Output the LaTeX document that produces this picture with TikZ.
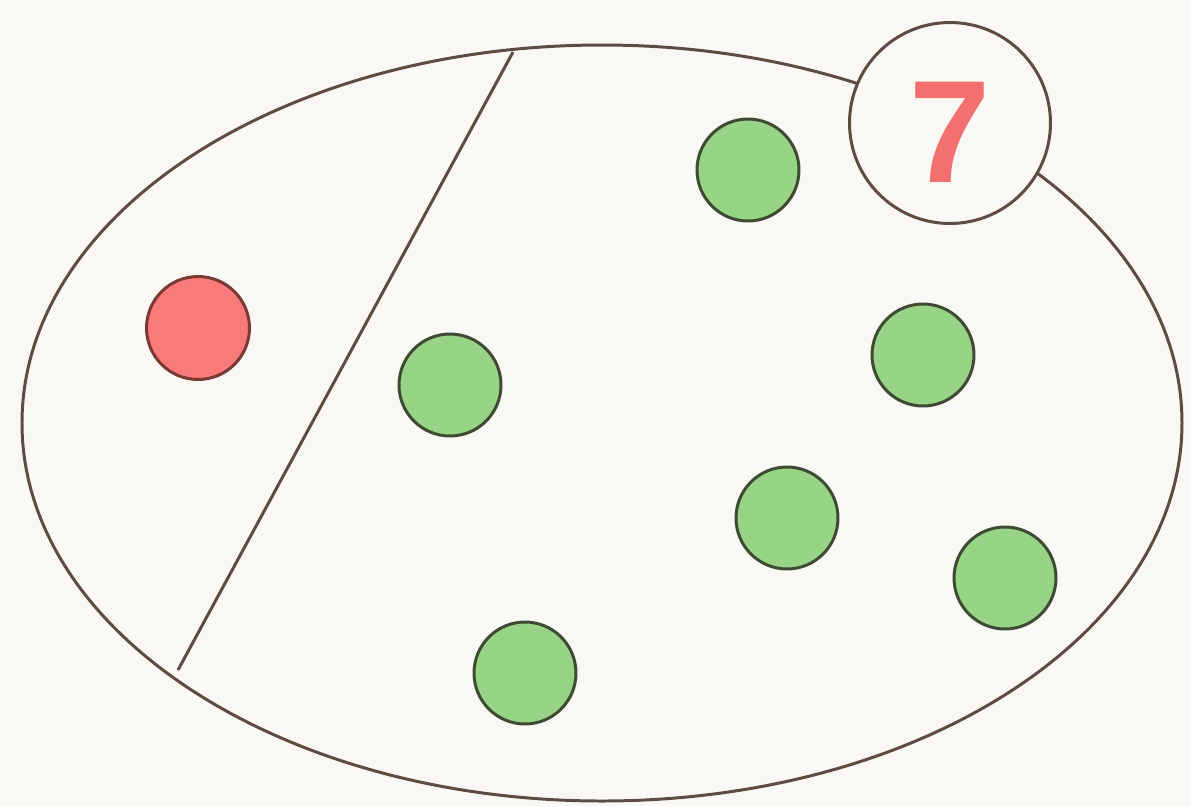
\documentclass[tikz,border=0pt]{standalone}
\usepackage{fontspec}
\setmainfont{Liberation Sans}
\definecolor{bg}{HTML}{FAF8F4}
\definecolor{edge}{HTML}{5E4B44}
\definecolor{redfill}{HTML}{F97B79}
\definecolor{redline}{HTML}{7A3A34}
\definecolor{greenfill}{HTML}{98D486}
\definecolor{greenline}{HTML}{3E4B32}
\definecolor{numred}{HTML}{F4706E}
\begin{document}
\begin{tikzpicture}[x=0.02cm,y=-0.02cm,
  outline/.style={draw=edge,line width=1.7pt},
  reddot/.style={circle,draw=redline,fill=redfill,line width=1.7pt,minimum size=2.06cm,inner sep=0pt},
  greendot/.style={circle,draw=greenline,fill=greenfill,line width=1.7pt,minimum size=2.04cm,inner sep=0pt},
  badge/.style={circle,draw=edge,fill=bg,line width=1.7pt,minimum size=4.02cm,inner sep=0pt},
  numtext/.style={inner sep=0pt,text=numred,font=\fontsize{83}{83}\selectfont\bfseries}]
\fill[bg] (0,0) rectangle (1191,806);
\useasboundingbox (0,0) rectangle (1191,806);
\draw[outline] (602,423) ellipse [x radius=580, y radius=378];
\coordinate (top) at (513,52);
\coordinate (bot) at (178,670);
\draw[outline] (top) -- (bot);
\node[reddot] (r1) at (198,328) {};
\node[greendot] (g1) at (748,170) {};
\node[greendot] (g2) at (450,385) {};
\node[greendot] (g3) at (923,355) {};
\node[greendot] (g4) at (787,518) {};
\node[greendot] (g5) at (1005,578) {};
\node[greendot] (g6) at (525,673) {};
\node[badge] (seven) at (950,123) {};
\node[numtext] (sevenlabel) at (950,132) {7};
\end{tikzpicture}
\end{document}
